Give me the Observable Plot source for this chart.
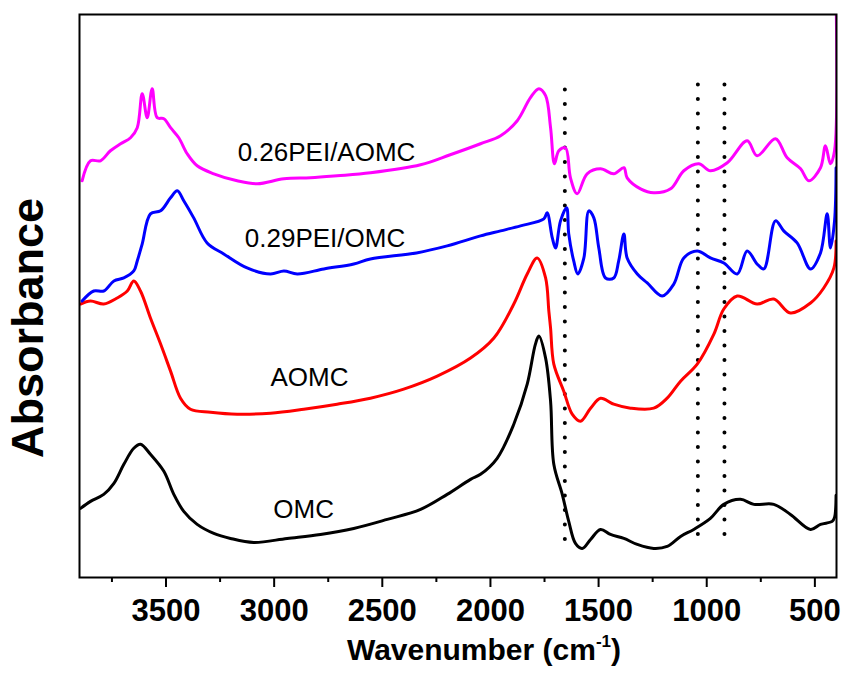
<!DOCTYPE html>
<html>
<head>
<meta charset="utf-8">
<script src="https://cdn.jsdelivr.net/npm/d3@7"></script>
<script src="https://cdn.jsdelivr.net/npm/@observablehq/plot@0.6"></script>
<style>
  body { margin: 0; background: #fff; }
  #chart svg { display: block; }
  #chart g[aria-label="x-axis tick label"] { font-size: 31px; font-weight: bold; }
</style>
</head>
<body>
<div id="chart"></div>
<script>
// Wavenumber (cm-1), absorbance (arbitrary, offset) pairs
const OMC = [
  [3895,0.69],[3849,0.76],[3788,0.83],[3741,0.94],[3695,1.13],[3649,1.29],[3618,1.33],
  [3572,1.23],[3510,1.06],[3464,0.83],[3418,0.66],[3356,0.53],[3279,0.44],[3202,0.39],
  [3094,0.35],[2940,0.39],[2786,0.43],[2632,0.49],[2477,0.58],[2323,0.68],[2200,0.83],
  [2092,0.98],[2046,1.03],[1969,1.19],[1892,1.53],[1830,1.93],[1792,2.33],[1776,2.41],
  [1745,2.19],[1722,1.76],[1707,1.13],[1668,0.83],[1638,0.56],[1607,0.34],[1576,0.29],
  [1537,0.38],[1491,0.48],[1445,0.43],[1383,0.39],[1321,0.33],[1245,0.29],[1183,0.31],
  [1121,0.41],[1060,0.48],[983,0.59],[921,0.73],[844,0.78],[782,0.73],[690,0.73],
  [613,0.63],[520,0.48],[474,0.53],[420,0.56],[409,0.60],[402,0.82]
];
const AOMC = [
  [3895,2.73],[3849,2.76],[3788,2.73],[3726,2.79],[3679,2.86],[3649,2.96],[3618,2.86],
  [3572,2.59],[3525,2.33],[3479,2.06],[3433,1.79],[3387,1.68],[3294,1.65],[3171,1.63],
  [3017,1.64],[2863,1.68],[2709,1.73],[2555,1.79],[2401,1.88],[2246,2.01],[2092,2.19],
  [1984,2.39],[1892,2.73],[1830,3.03],[1784,3.19],[1745,2.99],[1730,2.66],[1722,2.49],
  [1707,2.13],[1661,1.86],[1622,1.63],[1584,1.56],[1537,1.69],[1491,1.79],[1430,1.73],
  [1352,1.69],[1245,1.69],[1183,1.79],[1121,1.96],[1044,2.13],[967,2.43],[921,2.68],
  [859,2.81],[767,2.73],[690,2.78],[613,2.64],[520,2.74],[459,2.89],[412,3.09],[402,3.36]
];
const PEI_OMC = [
  [3888,2.76],[3834,2.86],[3788,2.86],[3741,2.96],[3695,2.99],[3649,3.06],[3633,3.16],
  [3610,3.33],[3572,3.63],[3525,3.66],[3479,3.79],[3448,3.86],[3418,3.76],[3372,3.59],
  [3310,3.34],[3233,3.23],[3125,3.09],[3017,3.03],[2955,3.06],[2893,3.03],[2770,3.08],
  [2632,3.13],[2555,3.18],[2342,3.24],[2200,3.31],[2046,3.41],[1953,3.46],[1861,3.51],
  [1753,3.58],[1738,3.64],[1714,3.39],[1699,3.29],[1676,3.56],[1648,3.69],[1638,3.43],
  [1615,3.16],[1596,3.03],[1568,3.19],[1545,3.66],[1522,3.59],[1499,3.29],[1468,2.99],
  [1430,2.99],[1407,3.16],[1383,3.43],[1368,3.19],[1321,3.03],[1275,2.94],[1206,2.81],
  [1152,2.93],[1106,3.19],[1044,3.26],[983,3.19],[921,3.14],[859,3.03],[813,3.26],
  [767,3.13],[736,3.08],[682,3.56],[644,3.46],[582,3.34],[520,3.08],[474,3.24],
  [443,3.63],[428,3.29],[409,3.56],[402,4.09]
];
const PEI_AOMC = [
  [3888,3.96],[3849,4.16],[3803,4.16],[3757,4.26],[3710,4.33],[3664,4.39],[3633,4.49],
  [3610,4.83],[3587,4.59],[3564,4.88],[3541,4.59],[3510,4.58],[3479,4.49],[3441,4.39],
  [3402,4.23],[3356,4.11],[3279,4.03],[3171,3.96],[3078,3.93],[2955,3.98],[2832,3.99],
  [2709,4.01],[2555,4.04],[2323,4.12],[2186,4.22],[2046,4.33],[1953,4.41],[1876,4.56],
  [1815,4.79],[1776,4.88],[1745,4.81],[1722,4.49],[1704,4.13],[1684,4.26],[1653,4.29],
  [1630,3.99],[1599,3.83],[1553,4.03],[1491,4.08],[1430,4.03],[1383,4.09],[1368,3.99],
  [1306,3.88],[1245,3.84],[1167,3.88],[1106,4.06],[1037,4.13],[983,4.06],[905,4.14],
  [813,4.36],[767,4.21],[682,4.38],[628,4.19],[566,4.08],[528,3.96],[474,4.09],
  [451,4.31],[428,4.13],[409,4.26],[402,5.8]
];

const seriesColors = ["#000000", "#ff0000", "#0000ff", "#ff00ff"];
const seriesNames = ["OMC", "AOMC", "0.29PEI/OMC", "0.26PEI/AOMC"];
const seriesData = [OMC, AOMC, PEI_OMC, PEI_AOMC];

// curve labels: wavenumber, absorbance position
const labelX = [2864, 2837, 2765, 2758];
const labelY = [0.68, 1.99, 3.38, 4.24];

// dotted reference lines (cm-1) and their extents
const refLines = [1656, 1041, 918];
const refTop = [4.91, 4.95, 4.97];
const refBottom = [0.38, 0.43, 0.43];

const majorTicks = [3500, 3000, 2500, 2000, 1500, 1000, 500];
const minorTicks = [3750, 3250, 2750, 2250, 1750, 1250, 750];

const labels = seriesNames.map((name, i) => ({name, x: labelX[i], y: labelY[i]}));
const rules = refLines.map((w, i) => ({w, y1: refBottom[i], y2: refTop[i]}));

const font = "'Liberation Sans', Arial, sans-serif";

const chart = Plot.plot({
  width: 847,
  height: 675,
  marginLeft: 79,
  marginRight: 11,
  marginTop: 14,
  marginBottom: 98,
  style: {fontFamily: font, background: "white", overflow: "visible"},
  x: {domain: [3900, 400]},
  y: {domain: [0, 5.62], axis: null},
  marks: [
    Plot.ruleX(rules, {x: "w", y1: "y1", y2: "y2", stroke: "black", strokeWidth: 4,
      strokeDasharray: "0,14.5", strokeLinecap: "round"}),
    ...seriesData.map((data, i) => Plot.line(data, {
      x: d => d[0], y: d => d[1], stroke: seriesColors[i], strokeWidth: 3,
      curve: "catmull-rom", clip: true
    })),
    Plot.text(labels, {x: "x", y: "y", text: "name", fontSize: 26, fill: "black"}),
    Plot.frame({stroke: "black", strokeWidth: 2}),
    Plot.axisX(majorTicks, {tickSize: 10, tickPadding: 11, fontSize: 31, fontWeight: "bold",
      tickFormat: d => String(d), strokeWidth: 2, label: null, fill: "black", stroke: "black"}),
    Plot.axisX(minorTicks, {tickSize: 5, tickFormat: () => "", strokeWidth: 2, label: null, stroke: "black"})
  ]
});

const svg = d3.select(chart);
const xt = svg.append("text")
  .attr("x", 484).attr("y", 660)
  .attr("text-anchor", "middle")
  .attr("font-family", font)
  .attr("font-size", 30)
  .attr("font-weight", "bold")
  .attr("fill", "black");
xt.append("tspan").text("Wavenumber (cm");
xt.append("tspan").attr("dy", -13).attr("font-size", 17).text("-1");
xt.append("tspan").attr("dy", 13).text(")");

svg.append("text")
  .attr("transform", "translate(43,328) rotate(-90)")
  .attr("text-anchor", "middle")
  .attr("font-family", font)
  .attr("font-size", 45)
  .attr("font-weight", "bold")
  .attr("fill", "black")
  .text("Absorbance");

document.getElementById("chart").appendChild(chart);
</script>
</body>
</html>
